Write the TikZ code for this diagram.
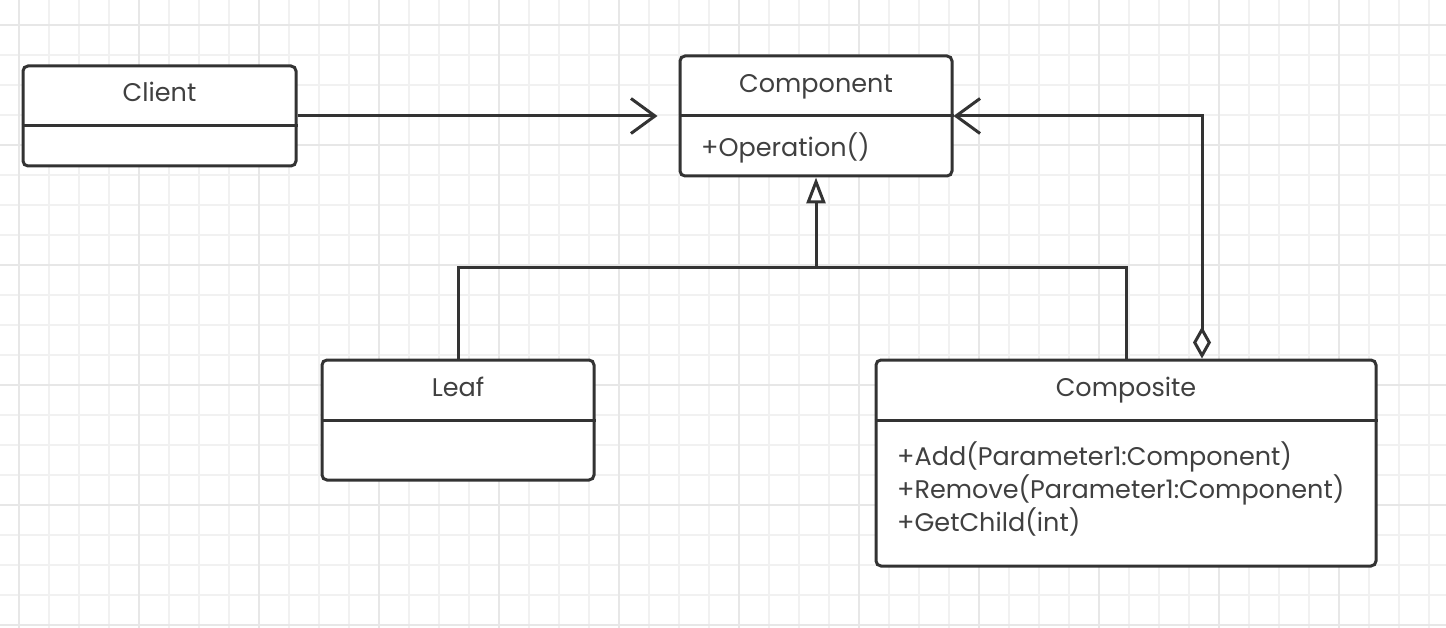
\documentclass[tikz,border=0pt]{standalone}
\usepackage{fontspec}
\setmainfont{Poppins}
\usetikzlibrary{arrows.meta}
\definecolor{linec}{HTML}{333333}
\definecolor{textc}{HTML}{404040}
\definecolor{gridminor}{HTML}{F1F1F1}
\definecolor{gridmajor}{HTML}{E7E7E7}

\tikzset{
  classbox/.style={draw=linec, line width=3pt, rounded corners=5pt, fill=white, inner sep=0pt},
  classname/.style={text=textc, font=\fontsize{25.5}{30}\selectfont, inner sep=0pt, anchor=base},
  member/.style={classname, anchor=base west},
  conn/.style={draw=linec, line width=3pt},
  openarrow/.style={-{Straight Barb[length=24pt, width=35pt]}},
}

\begin{document}
\begin{tikzpicture}[x=1pt, y=-1pt]
	%%%%% grid %%%%%
	\fill[white] (0,0) rectangle (1446,628);
	\useasboundingbox (0,0) rectangle (1446,628);
	\foreach \x in {19,49,...,1429} \draw[gridminor, line width=1.5pt] (\x,0) -- (\x,628);
	\foreach \y in {25,55,...,625} \draw[gridminor, line width=1.5pt] (0,\y) -- (1446,\y);
	\foreach \x in {19,139,...,1339} \draw[gridmajor, line width=2pt] (\x,0) -- (\x,628);
	\foreach \y in {25,145,...,625} \draw[gridmajor, line width=2pt] (0,\y) -- (1446,\y);
	
	%%%%% classes %%%%%
	\node[classbox, minimum width=273pt, minimum height=100pt] (client) at (159.5,116) {};
	\draw[conn] ([yshift=-10pt]client.west) -- ([yshift=-10pt]client.east);
	\node[classname] (clientname) at (159.5,102) {Client};
	
	\node[classbox, minimum width=272pt, minimum height=120pt] (component) at (816,116) {};
	\draw[conn] (component.west) -- (component.east);
	\node[classname] (componentname) at (816,93) {Component};
	\node[member] (operation) at (701,157) {+Operation()};
	
	\node[classbox, minimum width=272pt, minimum height=120pt] (leaf) at (458,420) {};
	\draw[conn] (leaf.west) -- (leaf.east);
	\node[classname] (leafname) at (458,396) {Leaf};
	
	\node[classbox, minimum width=500pt, minimum height=206pt] (composite) at (1126,463) {};
	\draw[conn] ([yshift=43pt]composite.west) -- ([yshift=43pt]composite.east);
	\node[classname] (compositename) at (1126,396) {Composite};
	\node[member] (addop) at (897,465) {+Add(Parameter1:Component)};
	\node[member] (removeop) at (897,498) {+Remove(Parameter1:Component)};
	\node[member] (childop) at (897,531) {+GetChild(int)};
	
	%%%%% links %%%%%
	\draw[conn, openarrow, shorten >=21pt] (client.east) -- (component.west);
	
	\draw[conn, {Diamond[fill=white, length=32pt, width=18pt]}-{Straight Barb[length=24pt, width=35pt]}]
		([xshift=76pt]composite.north) |- (component.east);
	
	\coordinate (join) at (816,268);
	\draw[conn] (leaf.north) |- (join) -| (composite.north);
	\draw[conn, -{Triangle[fill=white, length=26pt, width=19pt]}] (join) -- (component.south);
\end{tikzpicture}
\end{document}
